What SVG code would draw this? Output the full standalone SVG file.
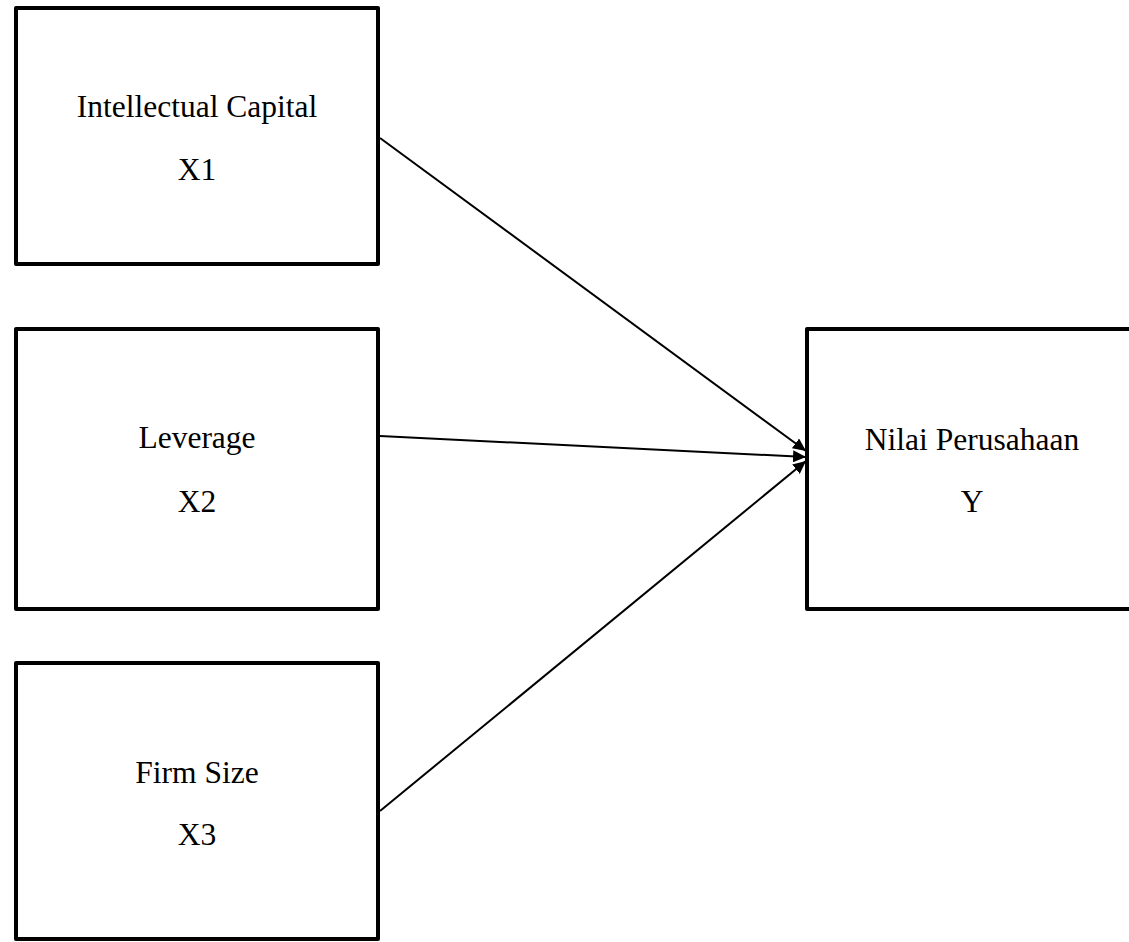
<svg xmlns="http://www.w3.org/2000/svg" width="1129" height="942" viewBox="0 0 1129 942">
<style>
.box{fill:#fff;stroke:#000;stroke-width:4;stroke-linejoin:round}
.lbl{font-family:"Liberation Serif","Times New Roman",serif;font-size:31.5px;fill:#000;text-anchor:middle}
.conn{stroke:#000;stroke-width:2;fill:none}
</style>
<defs>
<marker id="arr" markerUnits="userSpaceOnUse" markerWidth="14" markerHeight="12" refX="13" refY="6" orient="auto">
<path d="M0,0 L13,6 L0,12 Z" fill="#000"/>
</marker>
</defs>
<rect width="1129" height="942" fill="#fff"/>
<g id="node-x1">
<rect class="box" x="16" y="8" width="362" height="256"/>
<text class="lbl" x="197" y="117">Intellectual Capital</text>
<text class="lbl" x="197" y="180">X1</text>
</g>
<g id="node-x2">
<rect class="box" x="16" y="329" width="362" height="280"/>
<text class="lbl" x="197" y="448">Leverage</text>
<text class="lbl" x="197" y="512">X2</text>
</g>
<g id="node-x3">
<rect class="box" x="16" y="663" width="362" height="276"/>
<text class="lbl" x="197" y="783">Firm Size</text>
<text class="lbl" x="197" y="845">X3</text>
</g>
<g id="node-y">
<rect class="box" x="807" y="329" width="340" height="280"/>
<text class="lbl" x="972" y="450">Nilai Perusahaan</text>
<text class="lbl" x="972" y="512">Y</text>
</g>
<g id="connectors">
<line class="conn" x1="380" y1="138" x2="806" y2="451" marker-end="url(#arr)"/>
<line class="conn" x1="380" y1="436" x2="806" y2="457" marker-end="url(#arr)"/>
<line class="conn" x1="380" y1="811" x2="806" y2="461" marker-end="url(#arr)"/>
</g>
</svg>
